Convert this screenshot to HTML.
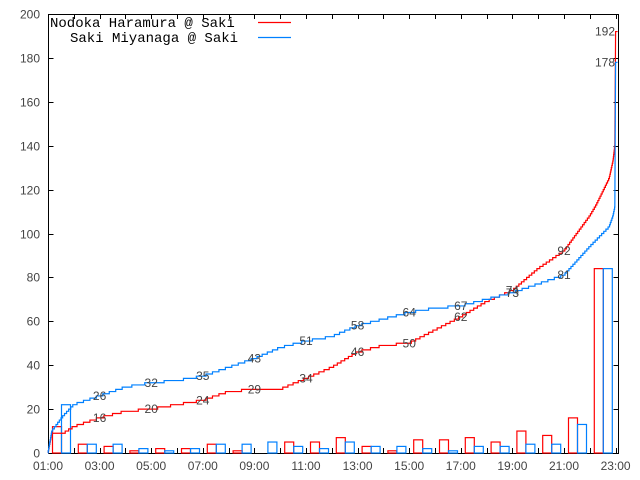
<!DOCTYPE html>
<html><head><meta charset="utf-8">
<style>
html,body{margin:0;padding:0;background:#fff;}
svg{display:block;}
.ax{font-family:"Liberation Sans",sans-serif;font-size:12px;fill:#444;}
.lbl{font-family:"Liberation Sans",sans-serif;font-size:12px;fill:#444;}
.leg{font-family:"Liberation Mono",monospace;font-size:14px;fill:#000;}
</style></head>
<body>
<svg id="chart" width="640" height="480" xmlns="http://www.w3.org/2000/svg">
<rect x="48.5" y="14.5" width="570" height="439" fill="none" stroke="#000" stroke-width="1"/>
<g id="ticks"></g>
<g id="bars"></g>
<g id="lines"></g>
<g id="labels"></g>
<g>
<text class="leg" x="50" y="27">Nodoka Haramura @ Saki</text>
<line x1="258" y1="22.5" x2="291" y2="22.5" stroke="#ff0000" stroke-width="1.2"/>
<text class="leg" x="70" y="42">Saki Miyanaga @ Saki</text>
<line x1="258" y1="37.5" x2="291" y2="37.5" stroke="#0080ff" stroke-width="1.2"/>
</g>
</svg>
<script>
// Hourly counts starting at 01:00 (index 0 = 01:00-02:00)
const hours = [1,2,3,4,5,6,7,8,9,10,11,12,13,14,15,16,17,18,19,20,21,22];
const redCounts  = [12,4,3,1,2,2,4,1,0,5,5,7,3,1,6,6,7,5,10,8,16,84];
const blueCounts = [22,4,4,2,1,2,4,4,5,3,2,5,3,3,2,1,3,3,4,4,13,84];
// Intra-hour cumulative samples (fraction of hour) for first and last hour
const firstHourFrac = [0,0.15,0.6,1];
const firstHourRed  = [0,9,9,12];
const firstHourBlue = [0,10,17,22];
const lastHourFrac  = [0,0.25,0.5,0.75,0.9,0.97,1];
const lastHourRed   = [108,113,119,125,133,140,192];
const lastHourBlue  = [94,97,100,103,108,112,178];
const yTicks = [0,20,40,60,80,100,120,140,160,180,200];
const xTickLabels = ["01:00","03:00","05:00","07:00","09:00","11:00","13:00","15:00","17:00","19:00","21:00","23:00"];
const labelHours = [3,5,7,9,11,13,15,17,19,21,23];

const NS="http://www.w3.org/2000/svg";
const X0=48, HW=25.8, Y0=453, YS=439/200;
function xs(h){return X0+(h-1)*HW;}
function ys(v){return Y0-v*YS;}
function mk(tag,attrs,parent){const e=document.createElementNS(NS,tag);for(const k in attrs)e.setAttribute(k,attrs[k]);parent.appendChild(e);return e;}

const tg=document.getElementById('ticks');
yTicks.forEach(v=>{
  const y=Math.round(ys(v))+0.5;
  let l=mk('line',{x1:48.5,x2:53.5,y1:y,y2:y,stroke:'#000'},tg);
  
  
  let r=mk('line',{x1:613.5,x2:618.5,y1:y,y2:y,stroke:'#000'},tg);
  
  
  let t=mk('text',{x:40,y:y+4,'text-anchor':'end','class':'ax'},tg);
  t.textContent=v;
  
  
});
for(let h=1;h<=23;h++){
  const x=Math.round(xs(h))+0.5;
  let b=mk('line',{x1:x,x2:x,y1:453,y2:448,stroke:'#000'},tg);
  
  
  let t2=mk('line',{x1:x,x2:x,y1:14,y2:19,stroke:'#000'},tg);
  
  
}
xTickLabels.forEach((s,i)=>{
  let t=mk('text',{x:xs(1+2*i),y:470,'text-anchor':'middle','class':'ax'},tg);
  t.textContent=s;
  
  
});

const bg=document.getElementById('bars');
hours.forEach((h,i)=>{
  const x=xs(h)+4.5;
  const r=mk('rect',{x:x,y:ys(redCounts[i]),width:9,height:redCounts[i]*YS,fill:'none',stroke:'#ff0000','stroke-width':1.2},bg);
  
  
  const b=mk('rect',{x:x+9,y:ys(blueCounts[i]),width:9,height:blueCounts[i]*YS,fill:'none',stroke:'#0080ff','stroke-width':1.2},bg);
  
  
});

function segSteps(state,xa,xb,va,vb){
  const n=Math.round(vb-va);
  if(n<=0)return;
  for(let k=0;k<n;k++){
    const x=xa+(xb-xa)*(k+0.5)/n;
    state.d+=' H'+x.toFixed(2)+' V'+ys(state.cum+1).toFixed(2);
    state.cum++;
  }
}
function stepPath(counts,fF,fV,lF,lV){
  const st={d:'M'+xs(1)+','+ys(0),cum:0};
  const last=hours.length-1;
  counts.forEach((c,i)=>{
    const h=hours[i];
    if(i===0){
      for(let j=1;j<fF.length;j++)segSteps(st,xs(h)+fF[j-1]*HW,xs(h)+fF[j]*HW,fV[j-1],fV[j]);
    }else if(i===last){
      st.cum=lV[0];
      for(let j=1;j<lF.length;j++)segSteps(st,xs(h)+lF[j-1]*HW,xs(h)+lF[j]*HW,lV[j-1],lV[j]);
    }else{
      segSteps(st,xs(h),xs(h)+HW,st.cum,st.cum+c);
    }
  });
  st.d+=' H'+(xs(23)+2).toFixed(2);
  return st.d;
}
const lg=document.getElementById('lines');
const pr=mk('path',{d:stepPath(redCounts,firstHourFrac,firstHourRed,lastHourFrac,lastHourRed),fill:'none',stroke:'#ff0000','stroke-width':1.2},lg);


const pb=mk('path',{d:stepPath(blueCounts,firstHourFrac,firstHourBlue,lastHourFrac,lastHourBlue),fill:'none',stroke:'#0080ff','stroke-width':1.2},lg);



function cumAt(counts,h){let s=0;for(let i=0;i<counts.length;i++){if(hours[i]<h)s+=counts[i];}return s;}
const lb=document.getElementById('labels');
labelHours.forEach(h=>{
  [[redCounts,'label-nodoka'],[blueCounts,'label-saki']].forEach(([c,n])=>{
    const v=cumAt(c,h);
    const t=mk('text',{x:Math.min(xs(h),605),y:ys(v)+4,'text-anchor':'middle','class':'lbl'},lb);
    t.textContent=v;
    
    
  });
});
</script>
</body></html>
